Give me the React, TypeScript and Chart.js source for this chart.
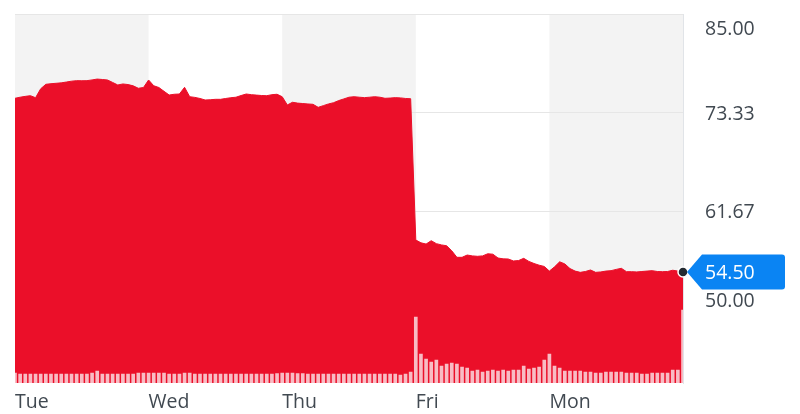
import React, { useEffect, useRef } from 'react';
import { Chart, registerables } from 'chart.js';

Chart.register(...registerables);

// ---- data ----
const days = ['Tue', 'Wed', 'Thu', 'Fri', 'Mon'];
const sessionTimes = [
  '09:30', '09:45', '10:00', '10:15', '10:30', '10:45', '11:00', '11:15', '11:30', '11:45',
  '12:00', '12:15', '12:30', '12:45', '13:00', '13:15', '13:30', '13:45', '14:00', '14:15',
  '14:30', '14:45', '15:00', '15:15', '15:30', '15:45',
];
const closingTime = '16:00';

const tuePrices = [75.07, 75.2, 75.3, 75.38, 75.14, 76.2, 76.73, 76.8, 76.85, 76.9, 77.0, 77.1, 77.16, 77.15, 77.16, 77.25, 77.35, 77.3, 77.24, 76.95, 76.65, 76.77, 76.7, 76.55, 76.26, 76.35];
const wedPrices = [77.24, 76.56, 76.35, 75.9, 75.46, 75.55, 75.58, 76.37, 75.26, 75.18, 75.05, 74.87, 74.9, 74.95, 74.95, 75.05, 75.14, 75.2, 75.4, 75.58, 75.5, 75.45, 75.4, 75.38, 75.5, 75.55];
const thuPrices = [75.26, 74.28, 74.6, 74.5, 74.45, 74.4, 74.36, 74.0, 74.2, 74.4, 74.55, 74.8, 75.0, 75.2, 75.26, 75.2, 75.15, 75.2, 75.26, 75.2, 75.07, 75.1, 75.15, 75.12, 75.05, 75.02];
const friPrices = [58.28, 57.95, 57.8, 58.2, 57.85, 57.7, 57.6, 57.0, 56.23, 56.23, 56.5, 56.4, 56.35, 56.4, 56.65, 56.6, 56.15, 56.05, 56.03, 55.8, 55.85, 56.11, 55.75, 55.5, 55.3, 55.15];
const monPrices = [54.6, 55.1, 55.7, 55.45, 54.9, 54.6, 54.45, 54.55, 54.73, 54.45, 54.5, 54.6, 54.65, 54.8, 54.93, 54.53, 54.53, 54.5, 54.55, 54.6, 54.65, 54.55, 54.53, 54.55, 54.7, 54.6, 54.5];

// volume, thousands of shares
const tueVolume = [100, 90, 90, 90, 90, 90, 90, 90, 90, 90, 90, 90, 90, 90, 90, 100, 120, 90, 90, 90, 90, 90, 90, 90, 100, 100];
const wedVolume = [100, 100, 100, 100, 90, 90, 90, 100, 100, 90, 90, 90, 90, 90, 90, 90, 90, 90, 90, 90, 90, 90, 90, 90, 90, 95];
const thuVolume = [100, 100, 100, 95, 95, 90, 90, 90, 90, 90, 90, 90, 90, 90, 90, 90, 90, 90, 90, 90, 90, 90, 90, 80, 90, 110];
const friVolume = [660, 290, 240, 210, 230, 170, 190, 200, 190, 160, 150, 120, 130, 110, 120, 130, 120, 130, 120, 130, 130, 170, 140, 150, 160, 230];
const monVolume = [290, 170, 150, 120, 120, 120, 120, 110, 110, 100, 100, 110, 110, 110, 110, 100, 100, 100, 90, 90, 100, 100, 100, 100, 130, 130, 730];

const yTickValues = [85, 73.33, 61.67, 50];
const priceMin = 41.34;
const priceMax = 85;
const volumeMax = 3685;

// ---- derived tables ----
const labels: string[] = days
  .flatMap((d) => sessionTimes.map((t) => `${d} ${t}`))
  .concat([`${days[days.length - 1]} ${closingTime}`]);
const prices = [...tuePrices, ...wedPrices, ...thuPrices, ...friPrices, ...monPrices];
const volumes = [...tueVolume, ...wedVolume, ...thuVolume, ...friVolume, ...monVolume];
const dayStartIdx = labels
  .map((l, i) => (l.endsWith(sessionTimes[0]) ? i : -1))
  .filter((i) => i >= 0);

const RED = '#eb0f29';
const TEXT = '#414951';
const FONT_FAMILY = '"Open Sans", "Noto Sans", sans-serif';
const FONT_SIZE = 19.5;

export default function App() {
  const ref = useRef<HTMLCanvasElement>(null);

  useEffect(() => {
    const canvas = ref.current;
    if (!canvas) return;
    const last = prices.length - 1;

    const bandsPlugin = {
      id: 'dayBands',
      beforeDraw(chart: any) {
        const { ctx, chartArea, scales } = chart;
        const xs = scales.x;
        ctx.save();
        ctx.fillStyle = '#f3f3f3';
        dayStartIdx.forEach((start, k) => {
          if (k % 2 !== 0) return;
          const x0 = xs.getPixelForValue(start);
          const x1 = k + 1 < dayStartIdx.length ? xs.getPixelForValue(dayStartIdx[k + 1]) : chartArea.right;
          ctx.fillRect(x0, chartArea.top, x1 - x0, chartArea.bottom - chartArea.top);
        });
        ctx.restore();
      },
    };

    const labelsPlugin = {
      id: 'priceLabels',
      afterDraw(chart: any) {
        const { ctx, chartArea, scales } = chart;
        const ys = scales.y;
        const tx = chartArea.right + 22;
        ctx.save();
        ctx.font = `${FONT_SIZE}px ${FONT_FAMILY}`;
        ctx.textAlign = 'left';
        ctx.textBaseline = 'middle';
        ctx.fillStyle = TEXT;
        yTickValues.forEach((v, i) => {
          let py = ys.getPixelForValue(v) + 1.5;
          if (i === 0) py += 13;
          if (i === yTickValues.length - 1) py -= 10;
          ctx.fillText(v.toFixed(2), tx, py);
        });

        // current price callout
        const pv = prices[last];
        const py = ys.getPixelForValue(pv);
        const tip = chartArea.right + 4;
        const left = chartArea.right + 19;
        const right = chartArea.right + 102;
        const top = py - 17.5;
        const bottom = py + 17.5;
        const r = 3;
        ctx.fillStyle = '#0a84f3';
        ctx.beginPath();
        ctx.moveTo(tip, py);
        ctx.lineTo(left, top);
        ctx.lineTo(right - r, top);
        ctx.quadraticCurveTo(right, top, right, top + r);
        ctx.lineTo(right, bottom - r);
        ctx.quadraticCurveTo(right, bottom, right - r, bottom);
        ctx.lineTo(left, bottom);
        ctx.closePath();
        ctx.fill();
        ctx.fillStyle = '#ffffff';
        ctx.fillText(pv.toFixed(2), tx, py + 1.5);
        ctx.restore();
      },
    };

    const chart = new Chart(canvas, {
      type: 'bar',
      data: {
        labels,
        datasets: [
          {
            type: 'line',
            label: 'Price',
            data: prices,
            yAxisID: 'y',
            borderColor: RED,
            backgroundColor: RED,
            borderWidth: 1,
            fill: 'start',
            tension: 0,
            clip: false,
            order: 1,
            pointRadius: (c: any) => (c.dataIndex === last ? 5 : 0),
            pointHoverRadius: 0,
            pointBackgroundColor: '#232a31',
            pointBorderColor: '#ffffff',
            pointBorderWidth: 1.5,
          } as any,
          {
            type: 'bar',
            label: 'Volume',
            data: volumes,
            yAxisID: 'yVol',
            backgroundColor: '#f8bcc4',
            barThickness: 3,
            order: 0,
          } as any,
        ],
      },
      options: {
        responsive: false,
        animation: false,
        layout: { padding: { left: 15, top: 14.5, right: 0, bottom: 0 } },
        plugins: { legend: { display: false }, tooltip: { enabled: false } },
        scales: {
          x: {
            type: 'category',
            offset: false,
            afterFit: (s: any) => {
              s.height = 31;
            },
            grid: { display: false },
            border: { display: false },
            ticks: {
              autoSkip: false,
              maxRotation: 0,
              minRotation: 0,
              align: 'start',
              padding: 0,
              color: TEXT,
              font: { family: FONT_FAMILY, size: FONT_SIZE },
              callback: (_v: any, idx: number) => {
                const k = dayStartIdx.indexOf(idx);
                return k >= 0 ? days[k] : null;
              },
            },
          },
          y: {
            position: 'right',
            min: priceMin,
            max: priceMax,
            afterBuildTicks: (s: any) => {
              s.ticks = yTickValues.map((v) => ({ value: v }));
            },
            afterFit: (s: any) => {
              s.width = 117;
            },
            grid: { color: '#e6e6e6', drawTicks: false },
            border: { display: true, color: '#e1e4e8' },
            ticks: { display: false },
          },
          yVol: {
            display: false,
            min: 0,
            max: volumeMax,
          },
        },
      } as any,
      plugins: [bandsPlugin, labelsPlugin],
    });

    return () => chart.destroy();
  }, []);

  return (
    <canvas
      ref={ref}
      width={800}
      height={414}
      style={{ position: 'absolute', left: 0, top: 0, width: 800, height: 414, display: 'block' }}
    />
  );
}
